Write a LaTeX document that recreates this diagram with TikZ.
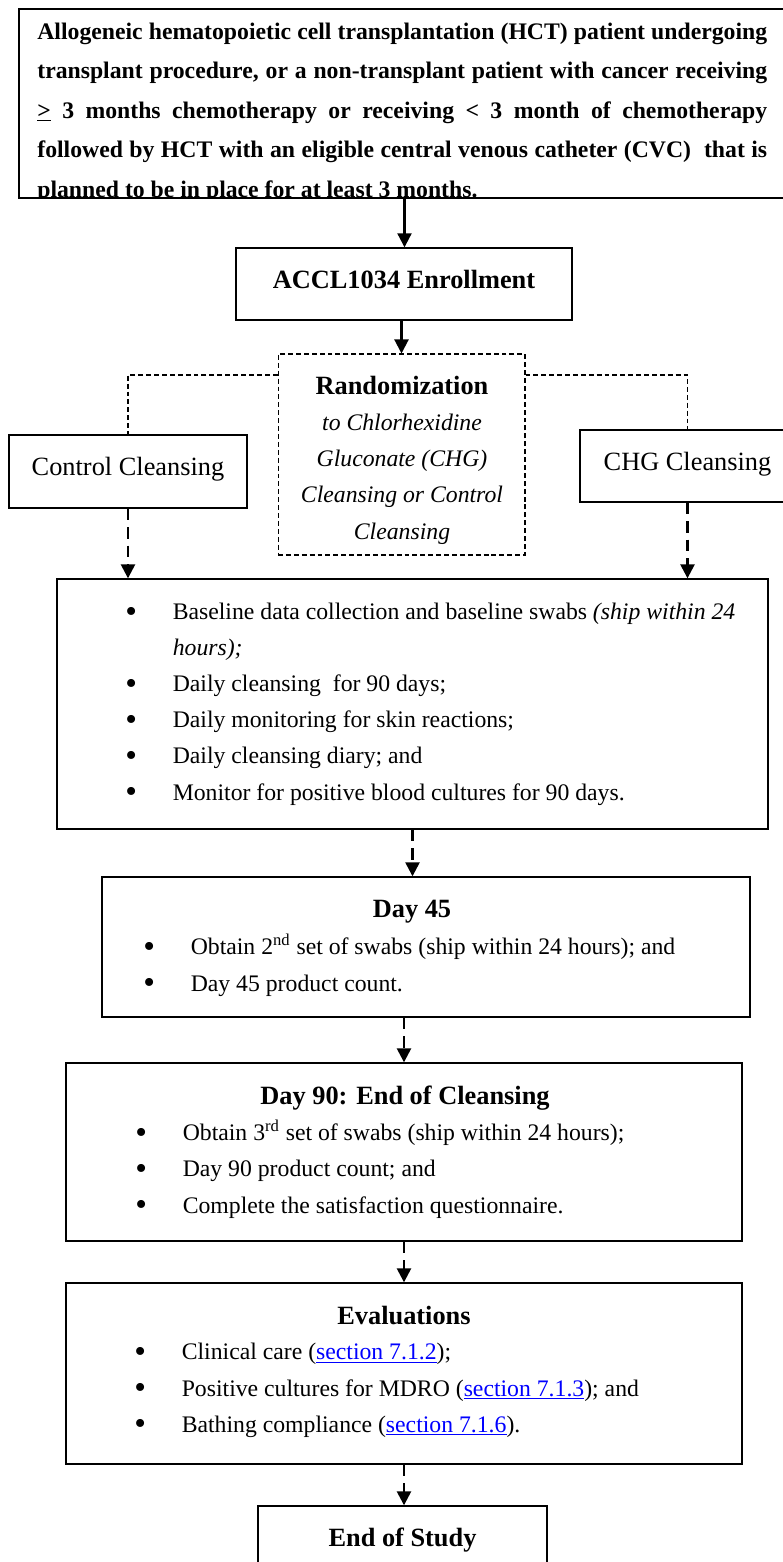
\documentclass[tikz,border=0pt]{standalone}
\usepackage{fontspec}
\setmainfont{Liberation Serif}
\usetikzlibrary{arrows.meta,calc}

\newcommand{\bodysize}{\fontsize{13.5}{20.5}\selectfont}
\newcommand{\headsize}{\fontsize{15}{20.5}\selectfont}
\newcommand{\bul}{\makebox[27pt][l]{\raisebox{-1.6pt}{\fontsize{19}{20}\selectfont\textbullet}}}
\newcommand{\seclink}[1]{\textcolor{blue}{\underline{#1}}}

\begin{document}
\begin{tikzpicture}[x=0.02cm,y=-0.02cm,>={Triangle[length=8pt,width=8pt]},
	box/.style={draw,line width=0.8pt,inner sep=0pt},
	onebox/.style={box,font=\headsize,text height=10pt,text depth=5pt},
	flow/.style={->,line width=1.2pt},
	dflow/.style={->,line width=1.4pt,dash pattern=on 6.5pt off 4pt},
	split/.style={line width=0.6pt,dash pattern=on 2.8pt off 1.7pt}]

\useasboundingbox (0,0) rectangle (783,1562);

\node[box,minimum width=15.42cm,minimum height=3.78cm] (elig) at (404.5,103.5) {};
\node[onebox,font=\headsize\bfseries,minimum width=6.72cm,minimum height=1.44cm] (enrol) at (404,284) {ACCL1034 Enrollment};
\node[draw,split,inner sep=0pt,minimum width=4.94cm,minimum height=4.02cm] (rand) at (401.5,454.5) {};
\node[onebox,minimum width=4.76cm,minimum height=1.46cm] (ctrl) at (128,471.5) {Control Cleansing};
\node[onebox,minimum width=4.3cm,minimum height=1.44cm] (chg) at (687.5,466) {CHG Cleansing};
\node[box,minimum width=14.22cm,minimum height=5cm] (base) at (412.5,704) {};
\node[box,minimum width=12.96cm,minimum height=2.8cm] (d45) at (426,947) {};
\node[box,minimum width=13.52cm,minimum height=3.56cm] (d90) at (404,1152) {};
\node[box,minimum width=13.52cm,minimum height=3.62cm] (eval) at (404,1373.5) {};
\node[onebox,font=\headsize\bfseries,minimum width=5.78cm,minimum height=1.44cm] (end) at (402.5,1542) {End of Study};

% eligibility text, cut by its box
\begin{scope}
\clip (elig.north west) rectangle (elig.south east);
\node[anchor=base west,inner sep=0pt,text width=14.6cm,align=justify,
	font=\bfseries\fontsize{13.5}{22.5}\selectfont] (eligtxt) at (37,39)
	{Allogeneic hematopoietic cell transplantation (HCT) patient undergoing\linebreak
	transplant procedure, or a non-transplant patient with cancer receiving\linebreak
	\underline{>} 3 months chemotherapy or receiving < 3 month of chemotherapy\linebreak
	followed by HCT with an eligible central venous catheter (CVC)~ that is\linebreak
	planned to be in place for at least 3 months.};
\end{scope}

% multi-line nodes sit on their last baseline
\node[anchor=base,inner sep=0pt,align=center,font=\bodysize] (randtxt) at (402,539)
	{{\headsize\bfseries Randomization}\\ \textit{to Chlorhexidine}\\ \textit{Gluconate (CHG)}\\
	\textit{Cleansing or Control}\\ \textit{Cleansing}};

\node[anchor=base west,inner sep=0pt,align=left,font=\bodysize] (basetxt) at (125,800)
	{\bul Baseline data collection and baseline swabs \textit{(ship within 24}\\
	\hspace*{27pt}\textit{hours);}\\
	\bul Daily cleansing~ for 90 days;\\
	\bul Daily monitoring for skin reactions;\\
	\bul Daily cleansing diary; and\\
	\bul Monitor for positive blood cultures for 90 days.};

\node[anchor=base,inner sep=0pt,font=\headsize\bfseries] (d45head) at (412,917) {Day 45};
\node[anchor=base west,inner sep=0pt,align=left,font=\bodysize] (d45txt) at (143,991)
	{\bul Obtain 2\textsuperscript{nd} set of swabs (ship within 24 hours); and\\
	\bul Day 45 product count.};

\node[anchor=base,inner sep=0pt,font=\headsize\bfseries] (d90head) at (405,1104) {Day 90: End of Cleansing};
\node[anchor=base west,inner sep=0pt,align=left,font=\bodysize] (d90txt) at (135,1213)
	{\bul Obtain 3\textsuperscript{rd} set of swabs (ship within 24 hours);\\
	\bul Day 90 product count; and\\
	\bul Complete the satisfaction questionnaire.};

\node[anchor=base,inner sep=0pt,font=\headsize\bfseries] (evalhead) at (404,1324) {Evaluations};
\node[anchor=base west,inner sep=0pt,align=left,font=\bodysize] (evaltxt) at (134,1432)
	{\bul Clinical care (\seclink{section 7.1.2});\\
	\bul Positive cultures for MDRO (\seclink{section 7.1.3}); and\\
	\bul Bathing compliance (\seclink{section 7.1.6}).};

% connectors
\draw[flow] (elig.south) -- (elig.south |- enrol.north);
\draw[flow] (enrol.south -| rand.north) -- (rand.north);
\draw[split] ([yshift=-0.43cm]rand.north west) -| (ctrl.north);
\draw[split] ([yshift=-0.43cm]rand.north east) -| (chg.north);
\draw[dflow] (ctrl.south) -- (ctrl.south |- base.north);
\draw[dflow] (chg.south) -- (chg.south |- base.north);
\draw[dflow] (base.south) -- (base.south |- d45.north);
\draw[dflow] (d90.north |- d45.south) -- (d90.north);
\draw[dflow] (d90.south) -- (eval.north);
\draw[dflow] (eval.south) -- (eval.south |- end.north);

\end{tikzpicture}
\end{document}
